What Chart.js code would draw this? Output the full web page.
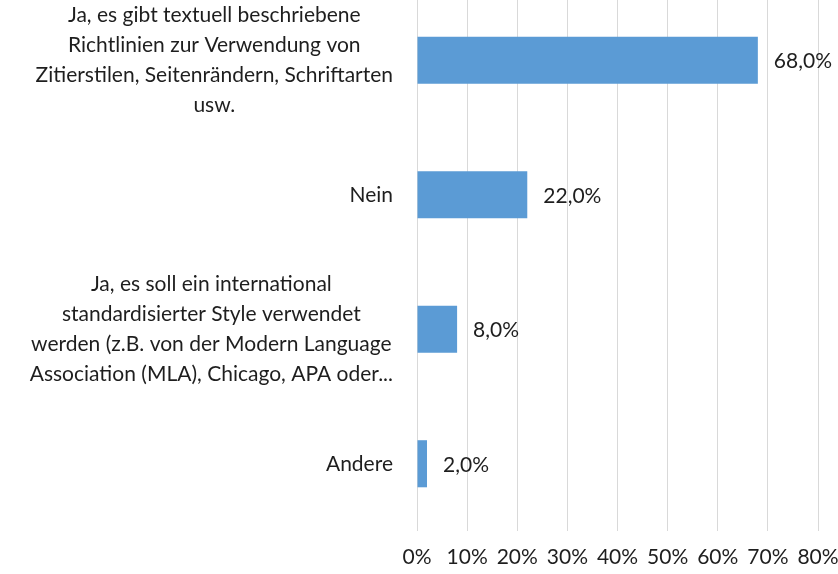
<!DOCTYPE html>
<html><head><meta charset="utf-8">
<script src="https://cdn.jsdelivr.net/npm/chart.js@4/dist/chart.umd.min.js"></script>
<style>
html,body{margin:0;padding:0;background:#fff;overflow:hidden;}
#wrap{position:absolute;left:0;top:-7px;width:838px;height:581px;}
</style></head>
<body>
<div id="wrap"><canvas id="c" width="838" height="581"></canvas></div>
<script>
const categories = [
  ["Ja, es gibt textuell beschriebene","Richtlinien zur Verwendung von","Zitierstilen, Seitenrändern, Schriftarten","usw."],
  ["Nein"],
  ["Ja, es soll ein international","standardisierter Style verwendet","werden (z.B. von der Modern Language","Association (MLA), Chicago, APA oder..."],
  ["Andere"]
];
const values = [68.0, 22.0, 8.0, 2.0];
const xTicks = [0,10,20,30,40,50,60,70,80];

const FONT = "Lato, 'Open Sans', sans-serif";
const TEXT = "#1e1e1e";
const FS = 21;

const labelPlugin = {
  id: 'labels',
  afterDraw(chart) {
    const ctx = chart.ctx;
    const y = chart.scales.y;
    ctx.save();
    ctx.fillStyle = TEXT;
    ctx.font = FS + "px " + FONT;
    ctx.textBaseline = 'middle';
    categories.forEach((lines, i) => {
      const cy = y.getPixelForTick(i);
      const w = Math.max(...lines.map(l => ctx.measureText(l).width));
      const cx = 393 - w / 2;
      const lh = 30;
      const y0 = cy - (lines.length - 1) * lh / 2;
      ctx.textAlign = 'center';
      lines.forEach((l, k) => ctx.fillText(l, cx, y0 + k * lh));
    });
    const meta = chart.getDatasetMeta(0);
    ctx.textAlign = 'left';
    meta.data.forEach((bar, i) => {
      const txt = values[i].toFixed(1).replace('.', ',') + '%';
      ctx.fillText(txt, bar.x + 16, bar.y + 1);
    });
    ctx.restore();
  }
};

new Chart(document.getElementById('c'), {
  type: 'bar',
  data: {
    labels: categories.map(c => c.join(' ')),
    datasets: [{
      data: values,
      backgroundColor: '#5B9BD5',
      borderWidth: 0,
      categoryPercentage: 1,
      barPercentage: 0.35
    }]
  },
  options: {
    indexAxis: 'y',
    responsive: false,
    animation: false,
    devicePixelRatio: 1,
    layout: { padding: { left: 417, right: 0, top: 0, bottom: 0 } },
    plugins: { legend: { display: false }, tooltip: { enabled: false } },
    scales: {
      y: {
        ticks: { display: false },
        grid: { display: false },
        border: { display: false },
        afterFit(s) { s.width = 0; }
      },
      x: {
        min: 0, max: 80,
        afterBuildTicks(s) { s.ticks = xTicks.map(v => ({ value: v })); },
        ticks: {
          color: TEXT,
          font: { family: FONT, size: FS },
          padding: 14,
          maxRotation: 0,
          callback: v => v + '%'
        },
        grid: { color: '#D9D9D9', lineWidth: 1, drawTicks: false },
        border: { display: false },
        afterFit(s) { s.height = 43; s.paddingRight = 20; s.paddingLeft = 0; }
      }
    }
  },
  plugins: [labelPlugin]
});
</script>
</body></html>
